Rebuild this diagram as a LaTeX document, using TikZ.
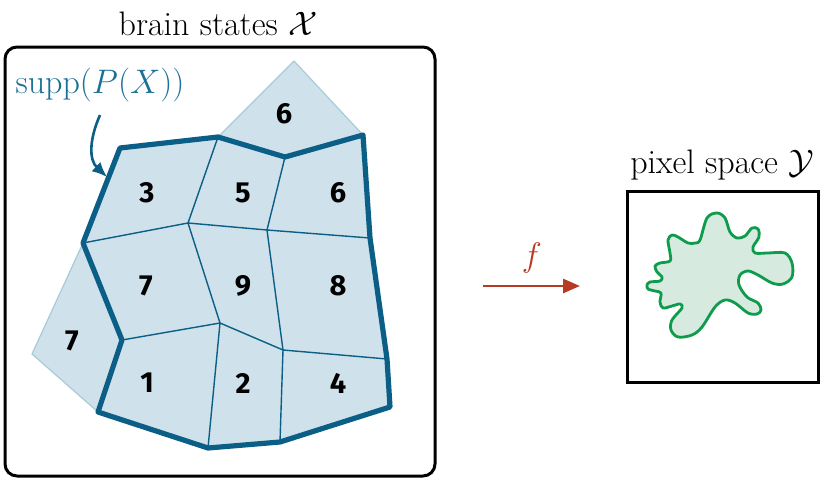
\documentclass[tikz,border=0pt]{standalone}
\usepackage{fix-cm}
\usepackage{fontspec}
\newfontfamily\digitfont{Fira Sans}
\usetikzlibrary{arrows.meta}
\definecolor{tealdark}{HTML}{0B5F87}
\definecolor{lightb}{HTML}{CFE1EA}
\definecolor{lightedge}{HTML}{A9CBD9}
\definecolor{suppc}{HTML}{1A7096}
\definecolor{redc}{HTML}{B73A22}
\definecolor{greenc}{HTML}{0D9B4C}
\definecolor{greenf}{HTML}{D6EADF}
\begin{document}
\begin{tikzpicture}[x=1pt,y=-1pt,
  digit/.style={font=\digitfont\bfseries\fontsize{29}{29}\selectfont},
  titletext/.style={font=\fontsize{34}{40}\selectfont, anchor=base},
  cellline/.style={draw=tealdark,line width=1.4pt},
  border/.style={draw=tealdark,line width=5.2pt,line join=round},
  outside/.style={fill=lightb,draw=lightedge,line width=1.2pt,line join=round},
  frame/.style={draw=black,line width=3pt}]
\useasboundingbox (0,0) rectangle (832,479);
% vertices
\coordinate (A) at (120,148);
\coordinate (B) at (218,137);
\coordinate (C) at (285,157);
\coordinate (D) at (363,135);
\coordinate (R1) at (370,238);
\coordinate (R2) at (387,359);
\coordinate (F) at (390,407);
\coordinate (G) at (280,442);
\coordinate (H) at (208,448);
\coordinate (I) at (98,412);
\coordinate (J) at (122,340);
\coordinate (K) at (83,243);
\coordinate (T) at (294,61);
\coordinate (L) at (32,354);
\coordinate (M1) at (188,223);
\coordinate (M2) at (267,230);
\coordinate (N1) at (220,323);
\coordinate (N2) at (283,350);
% frame left
\draw[frame, rounded corners=12pt] (5,47) rectangle (435,476);
\node[titletext] (xtitle) at (218,35) {brain states $\mathcal{X}$};
% outside cells
\path[outside] (B) -- (T) -- (D) -- (C) -- cycle;
\path[outside] (K) -- (L) -- (I) -- (J) -- cycle;
% support
\fill[lightb] (A) -- (B) -- (C) -- (D) -- (R1) -- (R2) -- (F) -- (G) -- (H) -- (I) -- (J) -- (K) -- cycle;
\draw[cellline] (B) -- (M1) -- (N1) -- (H);
\draw[cellline] (C) -- (M2) -- (N2) -- (G);
\draw[cellline] (K) -- (M1) -- (M2) -- (R1);
\draw[cellline] (J) -- (N1) -- (N2) -- (R2);
\draw[border] (A) -- (B) -- (C) -- (D) -- (R1) -- (R2) -- (F) -- (G) -- (H) -- (I) -- (J) -- (K) -- cycle;
% digits
\node[digit] (d6a) at (284,114) {6};
\node[digit] (d3) at (147,193) {3};
\node[digit] (d5) at (243,193) {5};
\node[digit] (d6) at (338,193) {6};
\node[digit] (d7) at (146,286) {7};
\node[digit] (d9) at (243,286) {9};
\node[digit] (d8) at (338,286) {8};
\node[digit] (d7b) at (72,341) {7};
\node[digit] (d1) at (147,383) {1};
\node[digit] (d2) at (243,383) {2};
\node[digit] (d4) at (338,383) {4};
% supp label and arrow
\node[titletext, text=suppc] (supp) at (100,93) {supp$(P(X))$};
\coordinate (sa) at (100,115);
\coordinate (sb) at (107,177);
\draw[tealdark, line width=2.6pt, -{Latex[length=15pt,width=13pt]}] (sa) .. controls (89,140) and (89,160) .. (sb);
% f arrow
\coordinate (fa) at (483,286);
\coordinate (fb) at (580,286);
\draw[redc, line width=2.8pt, -{Triangle[length=17pt,width=14pt]}] (fa) -- (fb);
\node[text=redc, font=\fontsize{34}{40}\selectfont] (flabel) at (532,258) {$f$};
% pixel space
\draw[frame] (627,191) rectangle (818,382);
\node[titletext] (ytitle) at (722,173) {pixel space $\mathcal{Y}$};
\draw[greenc, fill=greenf, line width=2.8pt, line join=round]
  plot[smooth cycle, tension=0.55] coordinates {
  (707,218) (717,213) (725,218) (730,232) (737,238) (745,236) (752,228)
  (758,229) (759,237) (753,247) (755,253) (768,253) (785,253) (792,263)
  (792,277) (783,284) (772,283) (758,275) (748,271) (740,275) (739,285)
  (747,297) (758,303) (761,310) (757,314) (748,313) (735,303) (725,300)
  (715,307) (702,327) (692,335) (678,337) (671,330) (672,320) (682,308)
  (680,304) (672,306) (663,308) (660,302) (661,293) (655,291) (648,289)
  (647,285) (650,282) (660,281) (662,277) (657,272) (655,266) (660,263)
  (670,261) (670,253) (668,240) (672,235) (678,237) (688,243) (695,243)
  (700,240)};
\end{tikzpicture}
\end{document}
